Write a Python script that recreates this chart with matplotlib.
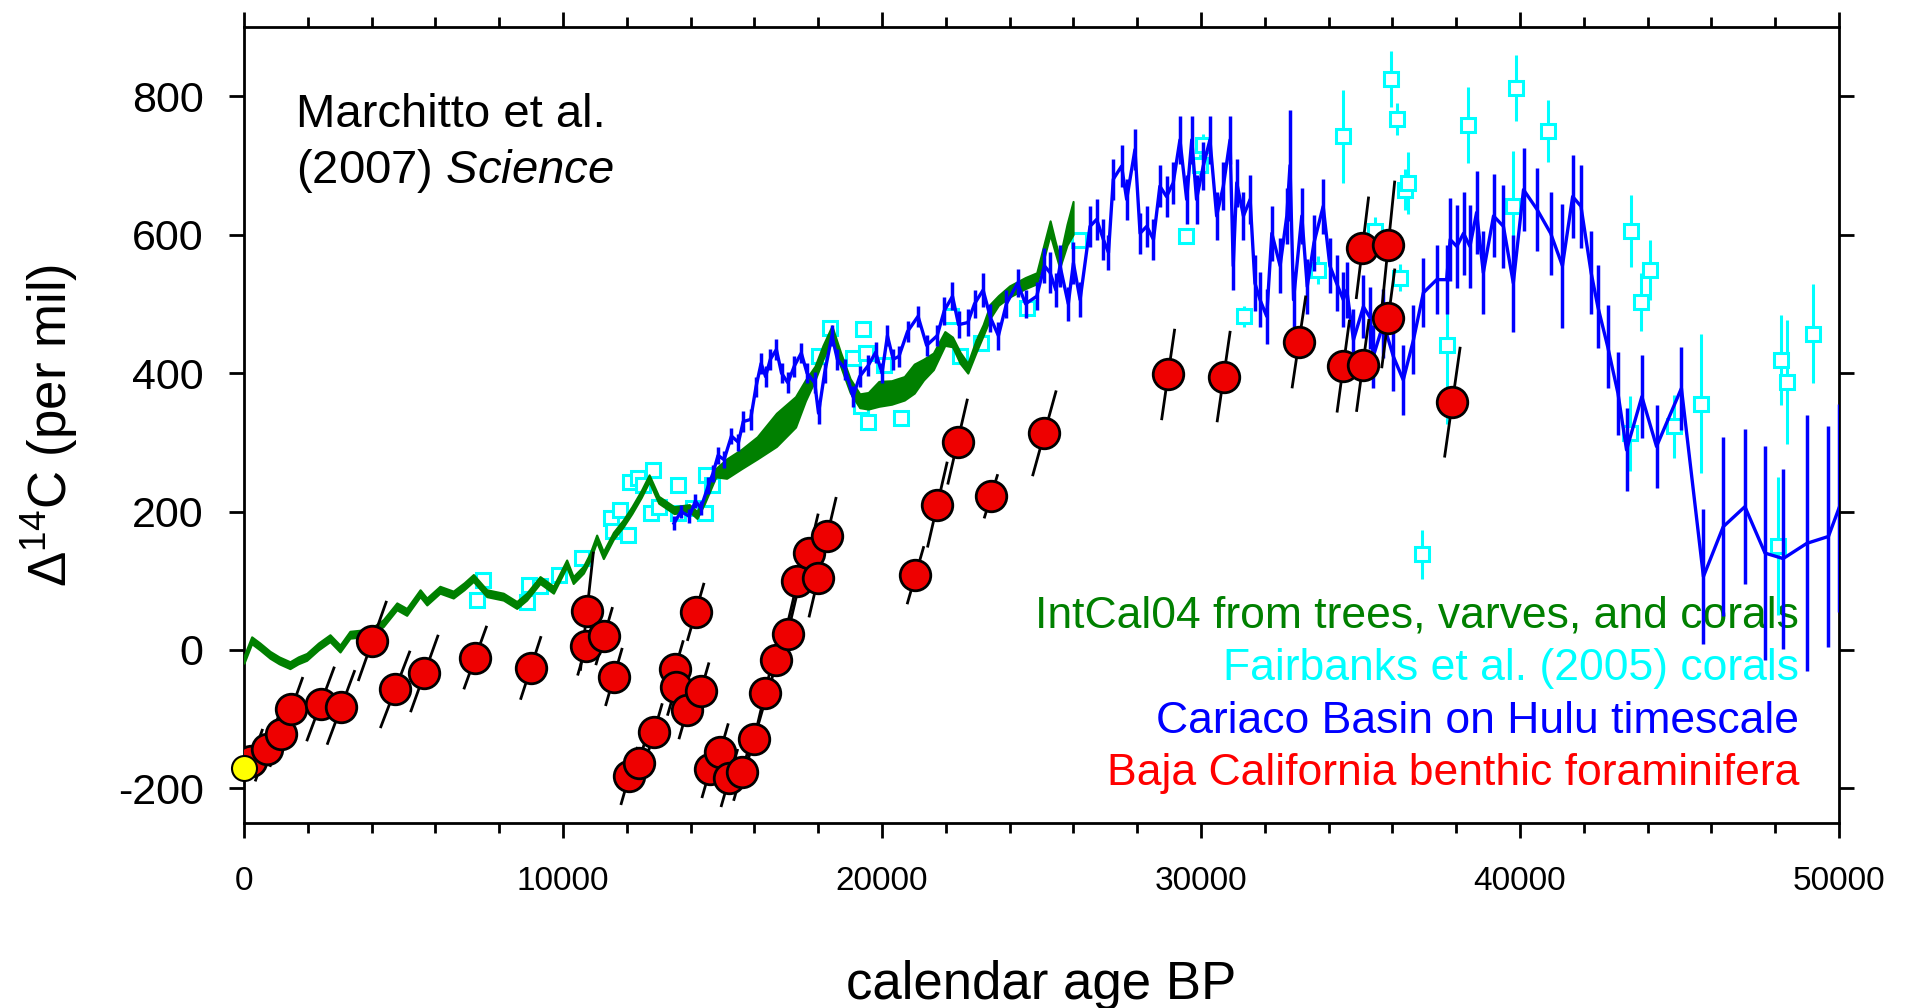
import matplotlib

matplotlib.use("Agg")
import matplotlib.pyplot as plt
from matplotlib.ticker import MultipleLocator

# --------------------------------------------------------------------------- #
# Data (calendar age BP, Delta14C per mil)
# --------------------------------------------------------------------------- #
# IntCal04: centre line and half-width of the envelope
INTCAL_AGE = [0, 240, 500, 815, 1100, 1440, 1700, 1965, 2330, 2695, 3010, 3320,
              3740, 4100, 4370, 4790, 5100, 5520, 5730, 6140, 6560, 6900, 7190,
              7610, 8130, 8550, 8860, 9280, 9700, 10115, 10320, 10640, 10850,
              11055, 11265, 11580, 11890, 12160, 12450, 12700, 13000, 13480,
              13960, 14200, 14440, 14790,
              15130, 15600, 16090, 16690, 17290, 17600, 17900, 18150, 18430,
              18700, 19000, 19300, 19570, 19900, 20300, 20700, 21010, 21300,
              21610, 21970, 22210, 22450, 22690, 22950, 23170, 23400, 23650,
              24000, 24490, 24850, 25100, 25270, 25430, 25570, 25800, 25990]
INTCAL_MID = [-14, 14, 5, -7, -15, -22, -15, -10, 5, 17, 2, 22,
              24, 30, 39, 63, 55, 82, 70, 87, 80, 92, 104,
              82, 77, 65, 77, 101, 87, 125, 101, 116, 135,
              161, 137, 165, 183, 202, 225, 248, 217, 202,
              205, 195, 217, 256,
              262, 276, 292, 318, 344, 375, 400, 430, 459,
              420, 382, 360, 360, 370, 372, 378, 392, 405,
              417, 450, 445, 422, 407, 439, 462, 490, 505,
              518, 530, 537, 580, 610, 582, 559, 600, 624]
INTCAL_HALF = [5] * 45 + [6,
               14, 14, 16, 24, 22, 15, 10, 10, 9,
               10, 10, 10, 12, 18, 17, 17, 21, 15,
               12, 10, 7, 8, 7, 9, 8, 10, 7,
               8, 8, 8, 10, 10, 8, 7, 15, 24]

# Fairbanks et al. (2005) corals: age, value, 1-sigma error
CORAL_AGE = [7300, 7480, 8860, 8920, 9280, 9880, 10600, 11500, 11560, 11800,
             12040, 12100, 12340, 12520, 12760, 12820, 13000, 13600, 13600,
             14080, 14440, 14470, 14680, 18010, 18370, 19090, 19330, 19390,
             19510, 19570, 20050, 20590, 22150, 22450, 23110, 24550, 26160,
             29530, 29970, 30050, 31350, 33680, 34460, 35460, 35960, 36150,
             36240, 36400, 36500, 36940, 37700, 38380, 39780, 39860, 40880,
             43450, 43480, 43800, 44060, 44830, 45660, 48100, 48170, 48380,
             49180]
CORAL_D14C = [72, 101, 70, 94, 92, 108, 133, 191, 172, 202,
              166, 243, 248, 239, 198, 260, 207, 239, 198,
              205, 198, 253, 238, 424, 465, 422, 352, 463,
              429, 330, 411, 335, 482, 424, 444, 494, 592,
              598, 701, 730, 482, 549, 742, 605, 825, 767,
              538, 665, 675, 138, 441, 758, 641, 812, 750,
              313, 605, 503, 549, 323, 356, 150, 419, 387,
              457]
CORAL_ERR = [8, 8, 8, 8, 8, 8, 8, 8, 8, 8,
             8, 8, 8, 8, 8, 8, 8, 8, 8,
             8, 8, 8, 8, 10, 10, 10, 10, 10,
             10, 10, 10, 10, 10, 10, 10, 10, 10,
             12, 15, 15, 15, 20, 67, 20, 40, 23,
             20, 30, 45, 35, 115, 55, 80, 48, 45,
             54, 52, 42, 43, 45, 100, 100, 65, 90,
             72]

# Cariaco Basin on Hulu timescale: age, value, 1-sigma error
CARIACO_AGE = [13480, 13700, 13960, 14150, 14320, 14560, 14700, 14860, 15050,
               15280, 15500, 15650, 15880, 16050, 16210, 16350, 16500, 16690,
               16850, 17050, 17250, 17470, 17650, 17890, 18010, 18200, 18430,
               18600, 18850, 19090, 19300, 19570, 19800, 20000, 20170, 20350,
               20530, 20800, 21130, 21400, 21730, 21950, 22210, 22400, 22690,
               22900, 23170, 23400, 23650, 23900, 24250, 24500, 24850,
               25090, 25270, 25450, 25580, 25840, 26000, 26210, 26520, 26730,
               26940, 27100, 27250, 27510, 27670, 27930, 28090, 28300, 28510,
               28710, 28920, 29130, 29340, 29550, 29710, 29860, 30070, 30280,
               30490, 30700, 30910, 31010, 31120, 31330, 31540, 31690, 31850,
               32060, 32220, 32480, 32690, 32790, 32900, 33160, 33330, 33540,
               33830, 34040, 34250, 34460, 34570, 34780, 35090, 35300, 35400,
               35720, 36030, 36340, 36660, 36970, 37390, 37700, 37810, 38020,
               38230, 38430, 38640, 38850, 39170, 39480, 39790, 40110, 40540,
               40960, 41330, 41650, 41910, 42230, 42440, 42750, 43070, 43340,
               43820, 44280, 45060, 45750, 46370, 47050, 47680, 48250, 48990,
               49670, 50000]
CARIACO_D14C = [183, 200, 193, 215, 205, 238, 255, 281, 275,
                309, 300, 330, 333, 380, 414, 395, 420, 434,
                400, 386, 410, 429, 400, 386, 342, 400, 454,
                420, 405, 366, 395, 411, 430, 400, 454, 420,
                424, 460, 482, 440, 454, 490, 511, 470, 473,
                500, 520, 480, 454, 500, 530, 500, 511,
                555, 545, 520, 555, 500, 559, 506, 612, 622,
                593, 574, 680, 699, 651, 723, 602, 612, 593,
                670, 655, 675, 737, 651, 737, 651, 699, 737,
                627, 670, 737, 555, 675, 627, 651, 530, 506,
                482, 602, 555, 627, 700, 506, 627, 525, 588,
                641, 555, 530, 506, 520, 448, 496, 480, 424,
                472, 424, 390, 448, 516, 535, 535, 593, 583,
                602, 583, 632, 545, 627, 612, 530, 665, 636,
                602, 555, 655, 641, 545, 496, 438, 371, 289,
                366, 294, 378, 106, 178, 207, 140, 132, 154,
                164, 205]
CARIACO_ERR = [10, 10, 10, 10, 10, 12, 12, 12, 12,
               12, 12, 15, 15, 15, 15, 15, 15, 15,
               15, 15, 15, 15, 15, 15, 15, 15, 15,
               15, 15, 15, 15, 15, 15, 15, 15, 15,
               15, 15, 15, 15, 15, 20, 20, 20, 20,
               20, 25, 20, 20, 20, 20, 20, 20,
               25, 30, 25, 30, 25, 30, 25, 30, 30,
               30, 25, 30, 30, 30, 30, 30, 30, 30,
               30, 30, 30, 35, 35, 35, 35, 35, 35,
               35, 35, 35, 35, 35, 35, 35, 40, 40,
               40, 40, 40, 40, 80, 40, 40, 40, 40,
               40, 40, 40, 40, 40, 45, 45, 45, 45,
               50, 50, 50, 50, 50, 50, 50, 60, 60,
               60, 60, 60, 60, 60, 60, 70, 60, 60,
               60, 90, 60, 60, 60, 60, 60, 60, 60,
               60, 60, 60, 97, 129, 112, 155, 130, 185,
               160, 150]

# Baja California benthic forams: age, value, half-extents of the tilted error line
BAJA_AGE = [220, 715, 1175, 1480, 2400, 3040, 4025, 4740, 5655, 7250, 8990,
            10750, 10720, 11290, 11595, 12075, 12370, 12850, 13510, 13535,
            13895, 14160, 14315, 14615, 14920, 15215, 15610, 15995, 16330,
            16690, 17040, 17350, 17710, 18000, 18275, 21050, 21735, 22370,
            23415, 25090, 28970, 30710, 33070, 34460, 35070, 35060, 35870,
            35870, 37880]
BAJA_D14C = [-161, -143, -122, -86, -78, -83, 13, -57, -34, -11, -26,
             56, 5, 20, -39, -182, -164, -119, -28, -53,
             -87, 55, -60, -172, -148, -185, -176, -128, -62,
             -14, 23, 99, 140, 104, 164, 108, 210, 301,
             222, 313, 398, 395, 445, 410, 411, 581, 585,
             479, 358]
BAJA_AGE_ERR = [350, 350, 350, 350, 420, 420, 430, 450, 420, 345, 310,
                200, 250, 250, 250, 250, 250, 250, 250, 250,
                250, 250, 250, 250, 250, 250, 250, 250, 280,
                280, 280, 280, 280, 280, 280, 250, 300, 300,
                200, 360, 200, 200, 210, 190, 190, 190, 200,
                200, 240]
BAJA_D14C_ERR = [45, 45, 45, 45, 52, 52, 56, 54, 54, 44, 44,
                 84, 40, 40, 40, 40, 40, 40, 40, 40,
                 40, 40, 40, 40, 40, 40, 40, 40, 55,
                 55, 55, 55, 55, 55, 55, 40, 60, 60,
                 30, 60, 64, 64, 65, 65, 65, 72, 91,
                 70, 78]

MODERN_AGE = [0]
MODERN_D14C = [-171]

LEGEND_LINES = ["IntCal04 from trees, varves, and corals",
                "Fairbanks et al. (2005) corals",
                "Cariaco Basin on Hulu timescale",
                "Baja California benthic foraminifera"]

GREEN = "#008000"
CYAN = "#00FFFF"
BLUE = "#0000FF"
RED = "#EE0000"
LEGEND_COLORS = [GREEN, CYAN, BLUE, "#FF0000"]


def main():
    plt.rcParams["font.family"] = ["Liberation Sans", "DejaVu Sans"]
    plt.rcParams["mathtext.fontset"] = "custom"
    plt.rcParams["mathtext.rm"] = "Liberation Sans"
    plt.rcParams["mathtext.it"] = "Liberation Sans:italic"
    plt.rcParams["mathtext.default"] = "regular"
    plt.rcParams["axes.unicode_minus"] = False

    fig = plt.figure(figsize=(19.19, 10.08), dpi=100)
    ax = fig.add_axes([244 / 1919, 1 - 823 / 1008, 1595 / 1919, 796 / 1008])

    # IntCal04 envelope
    lo = [m - h for m, h in zip(INTCAL_MID, INTCAL_HALF)]
    hi = [m + h for m, h in zip(INTCAL_MID, INTCAL_HALF)]
    ax.fill_between(INTCAL_AGE, lo, hi, color=GREEN, edgecolor=GREEN, lw=1.5, zorder=3)

    # Fairbanks corals
    ax.errorbar(CORAL_AGE, CORAL_D14C, yerr=CORAL_ERR, fmt="s", ms=10, mfc="white",
                mec=CYAN, mew=2.2, ecolor=CYAN, elinewidth=2.2, capsize=0, zorder=2)

    # Cariaco
    ax.errorbar(CARIACO_AGE, CARIACO_D14C, yerr=CARIACO_ERR, color=BLUE, lw=2.4,
                elinewidth=2.5, capsize=0, zorder=4)

    # Baja California: tilted error lines, then the circles
    for a, d, da, dd in zip(BAJA_AGE, BAJA_D14C, BAJA_AGE_ERR, BAJA_D14C_ERR):
        ax.plot([a - da, a + da], [d - dd, d + dd], color="black", lw=2, zorder=5)
    ax.plot(BAJA_AGE, BAJA_D14C, "o", ms=22, mfc=RED, mec="black", mew=2, zorder=6)
    ax.plot(MODERN_AGE, MODERN_D14C, "o", ms=18, mfc="yellow", mec="black", mew=1.5,
            zorder=7, clip_on=False)

    ax.set_xlim(0, 50000)
    ax.set_ylim(-250, 900)
    ax.xaxis.set_major_locator(MultipleLocator(10000))
    ax.xaxis.set_minor_locator(MultipleLocator(2000))
    ax.yaxis.set_major_locator(MultipleLocator(200))
    ax.tick_params(which="both", direction="out", top=True, right=True, width=2)
    ax.tick_params(which="major", length=11)
    ax.tick_params(which="minor", length=7)
    ax.tick_params(axis="x", pad=20, labelsize=24)
    ax.tick_params(axis="y", pad=18, labelsize=31)
    for sp in ax.spines.values():
        sp.set_linewidth(2)

    ax.set_xlabel("calendar age BP", fontsize=38, va="center")
    ax.xaxis.set_label_coords(0.5, -0.203)
    ax.set_ylabel("Δ$^{14}$C (per mil)", fontsize=38, va="center")
    ax.yaxis.set_label_coords(-0.122, 0.5)

    ax.text(1630, 755, "Marchitto et al.", fontsize=34, va="baseline")
    ax.text(1630, 674, "(2007) $\\it{Science}$", fontsize=34, va="baseline")

    for i, (txt, col) in enumerate(zip(LEGEND_LINES, LEGEND_COLORS)):
        ax.text(0.975, 0.2606 - i * 0.0663, txt, color=col, fontsize=32,
                ha="right", va="center", transform=ax.transAxes, zorder=1)

    fig.savefig("out.png", dpi=100)


if __name__ == "__main__":
    main()
